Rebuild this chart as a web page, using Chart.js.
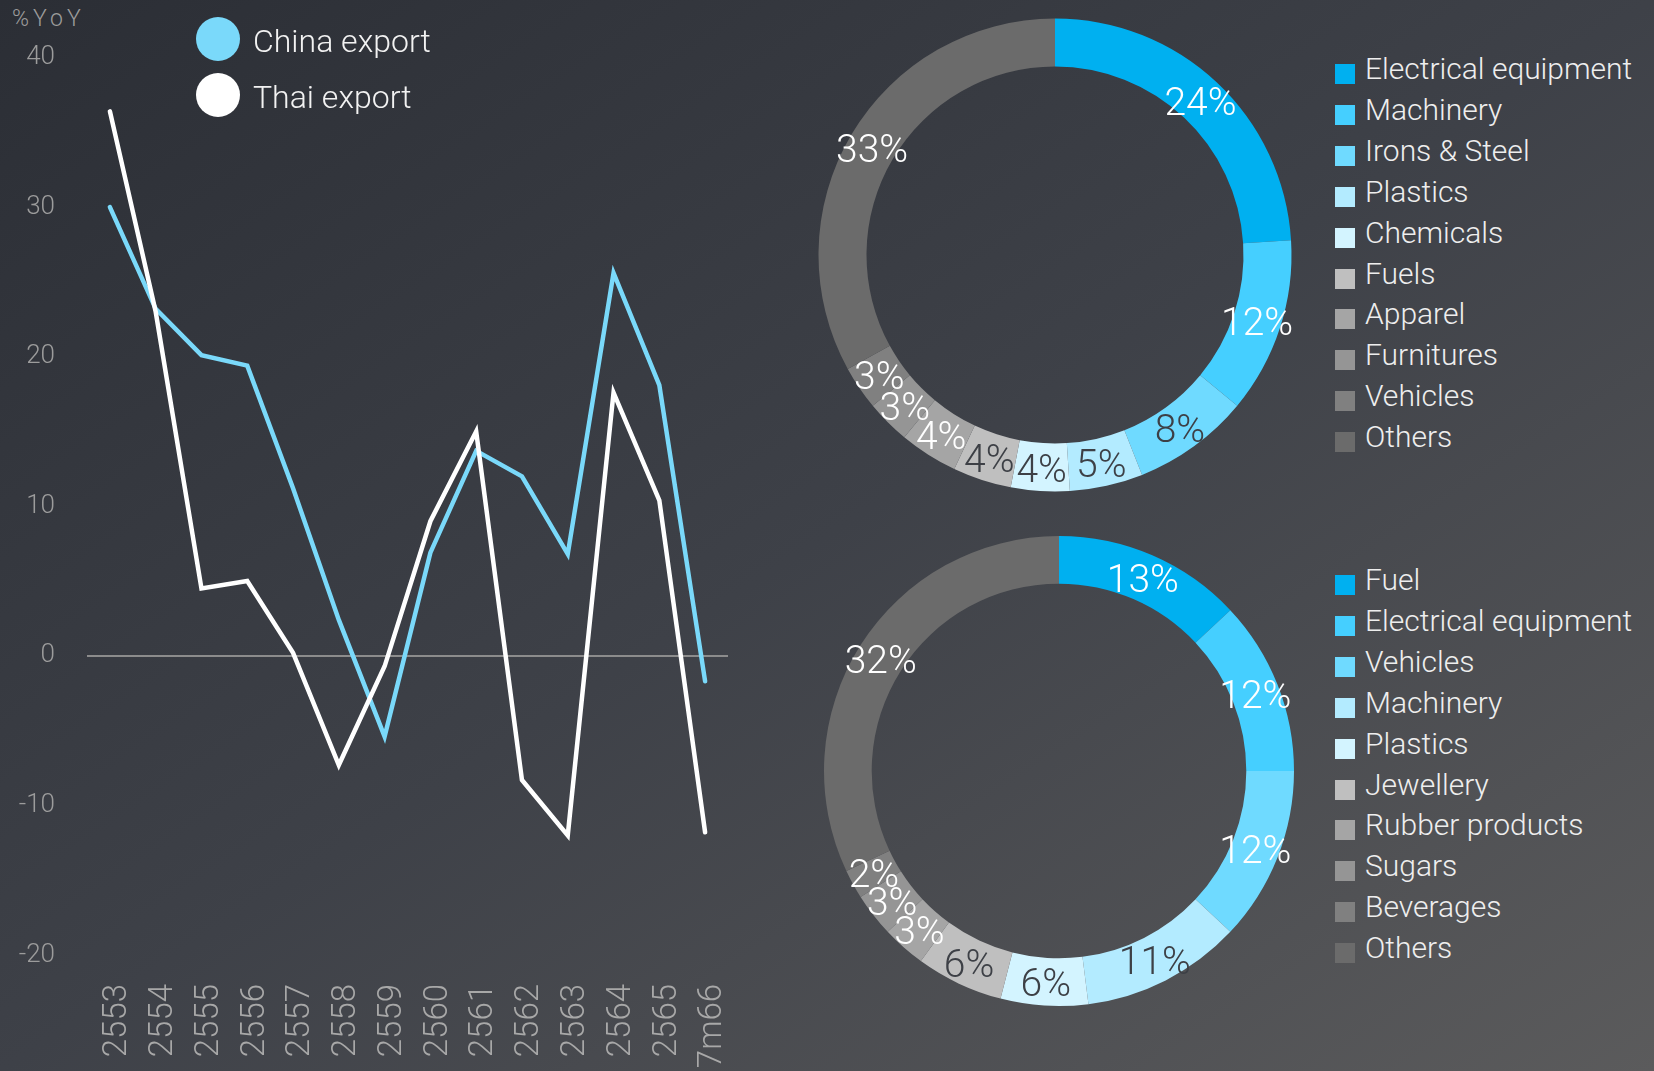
<!DOCTYPE html>
<html>
<head>
<meta charset="utf-8">
<script src="https://cdn.jsdelivr.net/npm/chart.js@4.4.1/dist/chart.umd.min.js"></script>
<style>
  html, body { margin: 0; padding: 0; }
  body {
    width: 1654px; height: 1071px; overflow: hidden; position: relative;
    background: linear-gradient(to bottom right, #2b2e35 0%, #3e4148 50%, #5b5b5c 100%);
    font-family: Roboto, 'Liberation Sans', sans-serif; font-weight: 300;
  }
  canvas, .abs { position: absolute; }
  #yoy { left: 12px; top: 5px; font-size: 23px; color: #9c9c9c; letter-spacing: 4px; }
  .dot { width: 44px; height: 44px; border-radius: 50%; }
  .ltxt { font-size: 32px; color: #f2f2f2; line-height: 32px; white-space: nowrap; }
  .sq { width: 20px; height: 20px; }
  .ptxt { font-size: 30px; color: #eeeeee; line-height: 30px; white-space: nowrap; }
</style>
</head>
<body>
<div id="yoy" class="abs">%YoY</div>
<canvas id="lines" width="740" height="1071" style="left:0;top:0"></canvas>
<canvas id="pie1" width="500" height="500" style="left:805px;top:5px"></canvas>
<canvas id="pie2" width="500" height="500" style="left:809px;top:521px"></canvas>
<div id="legends"></div>
<script>
const years = ['2553', '2554', '2555', '2556', '2557', '2558', '2559', '2560', '2561', '2562', '2563', '2564', '2565', '7m66'];
const chinaExport = [30.0, 23.2, 20.1, 19.4, 11.2, 2.4, -5.4, 6.9, 13.7, 12.0, 6.8, 25.6, 18.1, -1.7];
const thaiExport = [36.4, 23.0, 4.5, 5.0, 0.2, -7.3, -0.7, 9.0, 15.0, -8.3, -12.0, 17.6, 10.4, -11.8];

const exportGoods = ['Electrical equipment', 'Machinery', 'Irons & Steel', 'Plastics', 'Chemicals', 'Fuels', 'Apparel', 'Furnitures', 'Vehicles', 'Others'];
const exportShares = [24, 12, 8, 5, 4, 4, 4, 3, 3, 33];
const importGoods = ['Fuel', 'Electrical equipment', 'Vehicles', 'Machinery', 'Plastics', 'Jewellery', 'Rubber products', 'Sugars', 'Beverages', 'Others'];
const importShares = [13, 12, 12, 11, 6, 6, 3, 3, 2, 32];

const palette = ['#00b0f0', '#45cfff', '#6fdaff', '#b3ebff', '#d3f4ff', '#bfbfbf', '#a5a5a5', '#959595', '#808080', '#6b6b6b'];
const DARK = '#3d4046';
const ink1 = ['#fff', '#fff', DARK, DARK, DARK, DARK, '#fff', '#fff', '#fff', '#fff'];
const ink2 = ['#fff', '#fff', '#fff', DARK, DARK, DARK, '#fff', '#fff', '#fff', '#fff'];

// percent text in the middle of each ring slice
const sliceLabels = {
  id: 'sliceLabels',
  afterDatasetsDraw(chart, args, opts) {
    const ctx = chart.ctx;
    const data = chart.data.datasets[0].data;
    ctx.save();
    ctx.font = '300 39px Roboto';
    ctx.textAlign = 'center';
    ctx.textBaseline = 'middle';
    chart.getDatasetMeta(0).data.forEach((arc, i) => {
      const p = arc.tooltipPosition();
      ctx.fillStyle = opts.colors[i];
      ctx.fillText(data[i] + '%', p.x, p.y + 5);
    });
    ctx.restore();
  }
};

new Chart(document.getElementById('lines'), {
  type: 'line',
  data: {
    labels: years,
    datasets: [
      { label: 'Thai export', data: thaiExport, borderColor: '#ffffff', order: 0 },
      { label: 'China export', data: chinaExport, borderColor: '#7ad9fa', order: 1 }
    ]
  },
  options: {
    responsive: false,
    animation: false,
    layout: { padding: { top: 57.5, right: 12, bottom: 0, left: 0 } },
    elements: {
      line: { borderWidth: 4.5, tension: 0, borderCapStyle: 'round' },
      point: { radius: 0 }
    },
    plugins: { legend: { display: false }, tooltip: { enabled: false } },
    scales: {
      x: {
        offset: true,
        grid: { display: false },
        border: { display: false },
        ticks: {
          color: '#a8a8a8', autoSkip: false, minRotation: 90, maxRotation: 90, padding: 21, labelOffset: 8,
          font: { family: 'Roboto', weight: 300, size: 33, lineHeight: 1 }
        },
        // rotated labels would otherwise push the plot in from the right
        afterFit: s => { s.height = 116; s.paddingRight = 0; s.paddingLeft = 0; }
      },
      y: {
        min: -20, max: 40,
        border: { display: false },
        grid: {
          drawTicks: false, lineWidth: 2,
          color: c => (c.tick && c.tick.value === 0 ? '#8c8c8c' : 'transparent')
        },
        ticks: {
          stepSize: 10, padding: 32, color: '#9c9c9c',
          font: { family: 'Roboto', weight: 300, size: 26 }
        },
        afterFit: s => { s.width = 87; }
      }
    }
  }
});

function ring(id, goods, shares, pad, inks) {
  new Chart(document.getElementById(id), {
    type: 'doughnut',
    data: { labels: goods, datasets: [{ data: shares, backgroundColor: palette, borderWidth: 0 }] },
    options: {
      responsive: false,
      animation: false,
      cutout: '79.7%',
      layout: { padding: pad },
      plugins: { legend: { display: false }, tooltip: { enabled: false }, sliceLabels: { colors: inks } }
    },
    plugins: [sliceLabels]
  });
}
ring('pie1', exportGoods, exportShares, 13.5, ink1);
ring('pie2', importGoods, importShares, 15, ink2);

// legends
const box = document.getElementById('legends');
function add(html) { box.insertAdjacentHTML('beforeend', html); }

[['China export', '#7ad9fa', 16.5], ['Thai export', '#ffffff', 72.5]].forEach(([name, col, top]) => {
  add(`<div class="abs dot" style="left:196px;top:${top}px;background:${col}"></div>`);
  add(`<div class="abs ltxt" style="left:253px;top:${top + 8}px">${name}</div>`);
});

function sideLegend(goods, top) {
  goods.forEach((g, i) => {
    const y = top + i * 40.9;
    add(`<div class="abs sq" style="left:1335px;top:${y}px;background:${palette[i]}"></div>`);
    add(`<div class="abs ptxt" style="left:1365px;top:${y - 10}px">${g.replace('&', '&amp;')}</div>`);
  });
}
sideLegend(exportGoods, 64);
sideLegend(importGoods, 575);
</script>
</body>
</html>
